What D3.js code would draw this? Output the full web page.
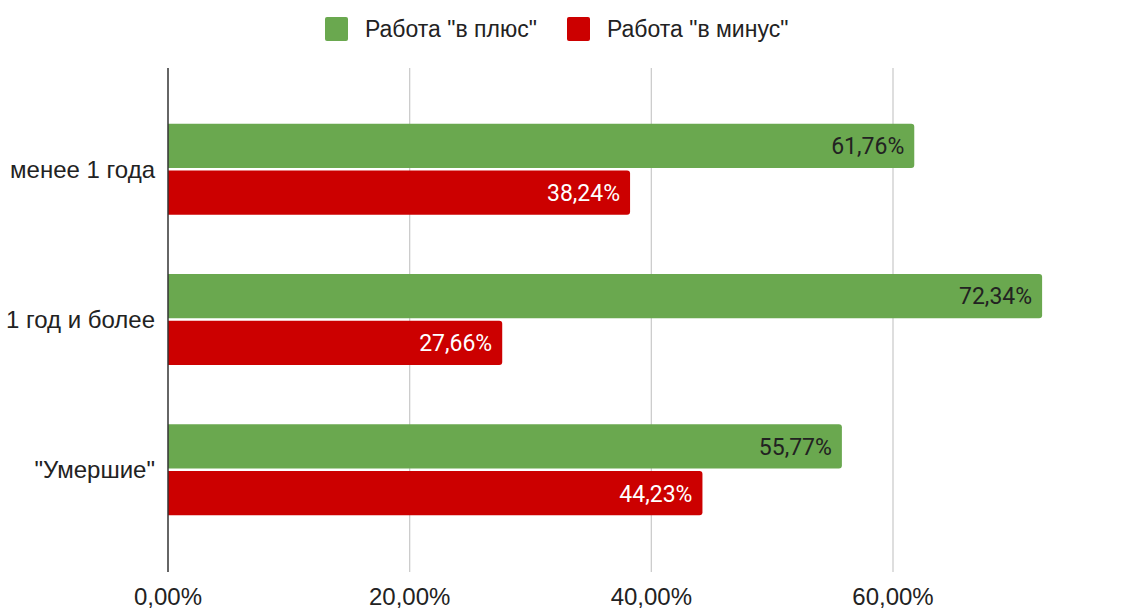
<!DOCTYPE html>
<html><head><meta charset="utf-8">
<script src="https://cdn.jsdelivr.net/npm/d3@7/dist/d3.min.js"></script>
<style>body{margin:0;background:#fff;}svg{display:block;}</style>
</head><body>
<svg id="c" width="1123" height="608"></svg>
<script>
const categories = ["менее 1 года", "1 год и более", "\"Умершие\""];
const seriesNames = ["Работа \"в плюс\"", "Работа \"в минус\""];
const plusValues = [61.76, 72.34, 55.77];
const minusValues = [38.24, 27.66, 44.23];
const tickValues = [0, 20, 40, 60];
const colors = ["#6aa84f", "#cc0000"];
const labelColors = ["#222222", "#ffffff"];

const svg = d3.select("#c");
const x = d3.scaleLinear().domain([0, 80]).range([168, 168 + 80 * (893 - 168) / 60]);
const y = d3.scaleBand().domain(categories).range([94, 545]);
const inner = d3.scaleBand().domain([0, 1]).range([0, 91]).paddingInner(0.055);
const fmt = v => d3.format(".2f")(v).replace(".", ",") + "%";

// gridlines
svg.append("g").selectAll("line").data(tickValues.filter(d => d > 0)).join("line")
  .attr("x1", d => x(d)).attr("x2", d => x(d)).attr("y1", 68).attr("y2", 572)
  .attr("stroke", "#cccccc").attr("stroke-width", 1.3);

// x tick labels
svg.append("g").selectAll("text").data(tickValues).join("text")
  .attr("x", d => x(d)).attr("y", 605).attr("text-anchor", "middle")
  .attr("font-family", "Liberation Sans, Arial, sans-serif").attr("font-size", 24)
  .attr("fill", "#222").text(d => fmt(d));

function barPath(x0, y0, w, h, r) {
  r = Math.min(r, w);
  return `M${x0},${y0}H${x0 + w - r}Q${x0 + w},${y0} ${x0 + w},${y0 + r}V${y0 + h - r}Q${x0 + w},${y0 + h} ${x0 + w - r},${y0 + h}H${x0}Z`;
}

const rows = categories.map((c, i) => ({c, vals: [plusValues[i], minusValues[i]]}));
const groups = svg.append("g").selectAll("g").data(rows).join("g")
  .attr("transform", d => `translate(0,${y(d.c) + (y.bandwidth() - 91) / 2})`);

groups.selectAll("path").data(d => d.vals.map((v, k) => ({v, k}))).join("path")
  .attr("d", d => barPath(x(0), inner(d.k), x(d.v) - x(0), inner.bandwidth(), 3))
  .attr("fill", d => colors[d.k]);

groups.selectAll("text.val").data(d => d.vals.map((v, k) => ({v, k}))).join("text")
  .attr("class", "val")
  .attr("x", d => x(d.v) - 10).attr("y", d => inner(d.k) + inner.bandwidth() / 2)
  .attr("dy", "0.36em").attr("text-anchor", "end")
  .attr("font-family", "Roboto, sans-serif").attr("font-size", 23)
  .attr("fill", d => labelColors[d.k]).text(d => fmt(d.v));

// y labels
svg.append("g").selectAll("text").data(categories).join("text")
  .attr("x", 155).attr("y", d => y(d) + y.bandwidth() / 2).attr("dy", "0.36em")
  .attr("text-anchor", "end")
  .attr("font-family", "Liberation Sans, Arial, sans-serif").attr("font-size", 24)
  .attr("fill", "#222").text(d => d);

// axis line
svg.append("line").attr("x1", x(0)).attr("x2", x(0)).attr("y1", 68).attr("y2", 572)
  .attr("stroke", "#333").attr("stroke-width", 1.5);

// legend
const legX = [325, 567];
const leg = svg.append("g").selectAll("g").data(seriesNames).join("g")
  .attr("transform", (d, i) => `translate(${legX[i]},17)`);
leg.append("rect").attr("width", 23).attr("height", 24).attr("rx", 2)
  .attr("fill", (d, i) => colors[i]);
leg.append("text").attr("x", 40).attr("y", 12).attr("dy", "0.36em")
  .attr("font-family", "Liberation Sans, Arial, sans-serif").attr("font-size", 23)
  .attr("fill", "#222").text(d => d);
</script>
</body></html>
